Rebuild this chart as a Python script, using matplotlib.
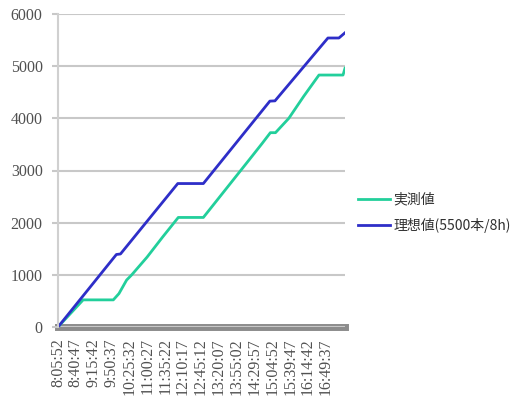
import numpy as np
import matplotlib
matplotlib.use('Agg')
import matplotlib.pyplot as plt

plt.rcParams['font.family'] = ['Liberation Serif', 'Noto Sans CJK JP', 'DejaVu Sans']

# x-axis category labels (every 34:55)
tick_labels = ['8:05:52', '8:40:47', '9:15:42', '9:50:37', '10:25:32', '11:00:27',
               '11:35:22', '12:10:17', '12:45:12', '13:20:07', '13:55:02', '14:29:57',
               '15:04:52', '15:39:47', '16:14:42', '16:49:37']

# 理想値 (5500本/8h)
ideal_times = ['8:05:52', '10:00:00', '10:08:00', '12:00:00', '12:50:00',
               '15:00:00', '15:10:00', '16:53:30', '17:15:00', '17:26:53']
ideal_vals = [0, 1390, 1400, 2750, 2750, 4330, 4335, 5540, 5540, 5640]

# 実測値
actual_times = ['8:05:52', '8:55:00', '9:54:00', '10:05:00', '10:20:00', '10:30:00',
                '11:00:00', '11:30:00', '12:01:00', '12:50:00', '13:20:00', '13:50:00',
                '14:20:00', '14:45:00', '15:01:00', '15:11:00', '15:37:00', '16:06:00',
                '16:36:00', '17:23:00', '17:26:53']
actual_vals = [0, 520, 520, 640, 900, 1000, 1340, 1720, 2100, 2100, 2470, 2840,
               3210, 3520, 3725, 3725, 4000, 4420, 4830, 4830, 4960]

C_ACT = '#22CF9B'
C_IDEAL = '#2E2EC8'


def to_sec(s):
    h, m, sec = (int(v) for v in s.split(':'))
    return h * 3600 + m * 60 + sec


t0 = to_sec(tick_labels[0])
tick_pos = [to_sec(s) - t0 for s in tick_labels]
x_ideal = [to_sec(s) - t0 for s in ideal_times]
x_act = [to_sec(s) - t0 for s in actual_times]

fig = plt.figure(figsize=(5.17, 3.98), dpi=100)
ax = fig.add_axes([58 / 517, 1 - 327 / 398, (345 - 58) / 517, (327 - 14) / 398])

ax.plot(x_act, actual_vals, color=C_ACT, lw=2.0, label='実測値', solid_joinstyle='round')
ax.plot(x_ideal, ideal_vals, color=C_IDEAL, lw=2.0, label='理想値(5500本/8h)',
        solid_joinstyle='round')

ax.set_xlim(0, max(x_ideal[-1], x_act[-1]))
ax.set_ylim(0, 6000)
ax.set_yticks(np.arange(0, 6001, 1000))
ax.set_xticks(tick_pos)
ax.set_xticklabels(tick_labels, rotation=90, fontsize=11.5, color='#505050')
ax.tick_params(axis='y', labelsize=11.5, labelcolor='#505050', length=4,
               color='#c8c8c8', width=1.5, pad=7)
ax.tick_params(axis='x', length=0, pad=8)

ax.grid(axis='y', color='#c8c8c8', lw=1.5)
ax.set_axisbelow(True)
for s in ['top', 'right']:
    ax.spines[s].set_visible(False)
ax.spines['left'].set_color('#d0d0d0')
ax.spines['left'].set_linewidth(1.5)
ax.spines['bottom'].set_color('#8c8c8c')
ax.spines['bottom'].set_linewidth(5)
ax.spines['bottom'].set_zorder(0.5)

leg = ax.legend(loc='center left', bbox_to_anchor=(352 / 517, 1 - 213 / 398),
                bbox_transform=fig.transFigure, frameon=False,
                prop={'family': ['Noto Sans CJK JP', 'DejaVu Sans'], 'size': 10},
                handlelength=2.3, handletextpad=0.3, labelspacing=0.8, borderaxespad=0)
for txt in leg.get_texts():
    txt.set_color('#303030')

fig.savefig('out.png', dpi=100)
